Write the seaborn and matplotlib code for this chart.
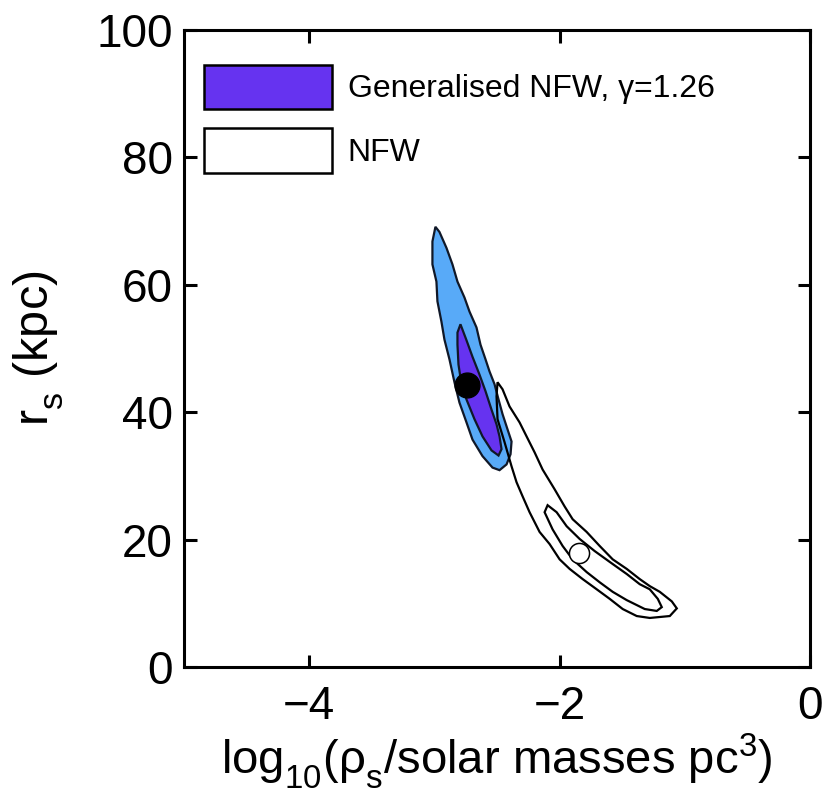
import numpy as np
import pandas as pd
import matplotlib
matplotlib.use("Agg")
import matplotlib.pyplot as plt
import matplotlib._mathtext as mathtext_internals
from matplotlib.patches import Patch
import seaborn as sns

# Confidence-region outlines: log10(rho_s) [x] and r_s in kpc [y]
gnfw_outer_x = [-2.992, -2.96, -2.904, -2.856, -2.816, -2.76, -2.72, -2.664, -2.632, -2.592,
                -2.56, -2.52, -2.488, -2.456, -2.416, -2.384, -2.392, -2.424, -2.48, -2.536,
                -2.616, -2.696, -2.744, -2.80, -2.84, -2.88, -2.92, -2.944, -2.976, -2.984,
                -3.016, -3.016]
gnfw_outer_y = [69.1, 68.3, 65.8, 63.2, 60.5, 58.0, 55.8, 53.3, 50.6, 48.3,
                46.4, 44.4, 42.0, 39.7, 37.3, 35.4, 33.4, 31.8, 30.9, 31.3,
                33.1, 35.7, 38.4, 41.5, 44.7, 48.3, 51.4, 54.2, 57.4, 60.5,
                63.2, 66.8]

gnfw_inner_x = [-2.792, -2.744, -2.696, -2.64, -2.592, -2.544, -2.504, -2.48, -2.464, -2.488,
                -2.544, -2.616, -2.68, -2.744, -2.784, -2.808, -2.816, -2.816]
gnfw_inner_y = [53.8, 51.3, 48.7, 45.9, 43.3, 40.4, 38.1, 36.2, 34.2, 33.2,
                34.0, 36.2, 38.9, 42.0, 44.4, 47.5, 50.6, 52.5]

nfw_outer_x = [-2.496, -2.456, -2.40, -2.32, -2.264, -2.20, -2.136, -2.04, -1.96, -1.896,
               -1.784, -1.68, -1.576, -1.464, -1.36, -1.28, -1.20, -1.104, -1.064, -1.12,
               -1.28, -1.384, -1.496, -1.60, -1.704, -1.816, -1.92, -2.00, -2.08, -2.16,
               -2.24, -2.296, -2.344, -2.384, -2.44, -2.496, -2.504]
nfw_outer_y = [44.7, 43.6, 40.9, 38.4, 36.2, 33.7, 31.0, 27.9, 25.2, 23.2,
               21.2, 19.0, 16.9, 15.4, 13.8, 12.7, 11.8, 10.3, 9.2, 8.0,
               7.7, 8.0, 9.1, 10.7, 12.2, 13.8, 15.4, 16.9, 19.3, 21.2,
               24.3, 26.8, 29.0, 31.5, 35.3, 38.9, 42.5]

nfw_inner_x = [-2.096, -2.024, -1.944, -1.84, -1.72, -1.60, -1.464, -1.36, -1.28, -1.216,
               -1.184, -1.224, -1.32, -1.464, -1.576, -1.68, -1.784, -1.896, -1.976, -2.056,
               -2.12]
nfw_inner_y = [25.4, 24.3, 22.1, 20.1, 18.2, 16.5, 14.6, 13.0, 12.2, 10.7,
               9.4, 8.8, 9.1, 10.5, 11.8, 13.3, 14.9, 16.9, 19.0, 21.6,
               24.3]

# Best-fit points
best_x = [-2.736, -1.848]
best_y = [44.3, 17.9]
best_model = ["Generalised NFW", "NFW"]

x_ticks = [-4, -2, 0]
y_ticks = [0, 20, 40, 60, 80, 100]
legend_labels = ["Generalised NFW, \u03b3=1.26", "NFW"]

light_blue = "#58aaf8"
purple = "#6633f0"
edge = "#101828"

sns.set_theme(style="ticks")
plt.rcParams["font.family"] = ["Liberation Sans", "DejaVu Sans"]
plt.rcParams["mathtext.fontset"] = "custom"
plt.rcParams["mathtext.rm"] = "Liberation Sans"
plt.rcParams["mathtext.it"] = "Liberation Sans:italic"
plt.rcParams["text.color"] = "black"
# deeper subscripts in the axis labels
mathtext_internals.FontConstantsBase.sub1 = 0.6
mathtext_internals.FontConstantsBase.sub2 = 0.8

fig = plt.figure(figsize=(8.29, 7.95), dpi=100)
ax = fig.add_axes([0.2220, 0.1610, 0.7551, 0.8013])

ax.fill(gnfw_outer_x, gnfw_outer_y, facecolor=light_blue, edgecolor=edge, linewidth=1.6, zorder=2)
ax.fill(gnfw_inner_x, gnfw_inner_y, facecolor=purple, edgecolor=edge, linewidth=1.6, zorder=3)
ax.fill(nfw_outer_x, nfw_outer_y, facecolor="none", edgecolor="black", linewidth=1.6, zorder=4)
ax.fill(nfw_inner_x, nfw_inner_y, facecolor="none", edgecolor="black", linewidth=1.6, zorder=4)

pts = pd.DataFrame({"x": best_x, "y": best_y, "model": best_model})
sns.scatterplot(data=pts[pts.model == "Generalised NFW"], x="x", y="y", ax=ax,
                s=320, color="black", edgecolor="black", linewidth=1, zorder=5, legend=False)
sns.scatterplot(data=pts[pts.model == "NFW"], x="x", y="y", ax=ax,
                s=210, color="white", edgecolor="black", linewidth=1.1, zorder=5, legend=False)

ax.set_xlim(-5, 0)
ax.set_ylim(0, 100)
ax.set_xticks(x_ticks)
ax.set_yticks(y_ticks)
ax.set_xticklabels(["\u2212" + str(abs(t)) if t < 0 else str(t) for t in x_ticks])
ax.tick_params(direction="in", length=9, width=2.2, labelsize=33, top=True, right=True,
               color="black", labelcolor="black")
ax.tick_params(axis="x", pad=13)
ax.tick_params(axis="y", pad=8)
for sp in ax.spines.values():
    sp.set_linewidth(2.2)
    sp.set_color("black")

ax.set_xlabel(r"$\mathregular{log_{10}(\rho_s/solar\ masses\ pc^3)}$", fontsize=34,
              labelpad=2, color="black")
ax.set_ylabel(r"$\mathregular{r_s\ (kpc)}$", fontsize=35, labelpad=22, color="black")

handles = [Patch(facecolor=purple, edgecolor="black", linewidth=1.8),
           Patch(facecolor="white", edgecolor="black", linewidth=1.8)]
ax.legend(handles, legend_labels, loc="upper left", bbox_to_anchor=(0.032, 0.945),
          frameon=False, fontsize=23, handlelength=4.0, handleheight=1.75,
          handletextpad=0.5, labelspacing=0.6, borderaxespad=0, borderpad=0,
          labelcolor="black")

fig.savefig("out.png", dpi=100)
